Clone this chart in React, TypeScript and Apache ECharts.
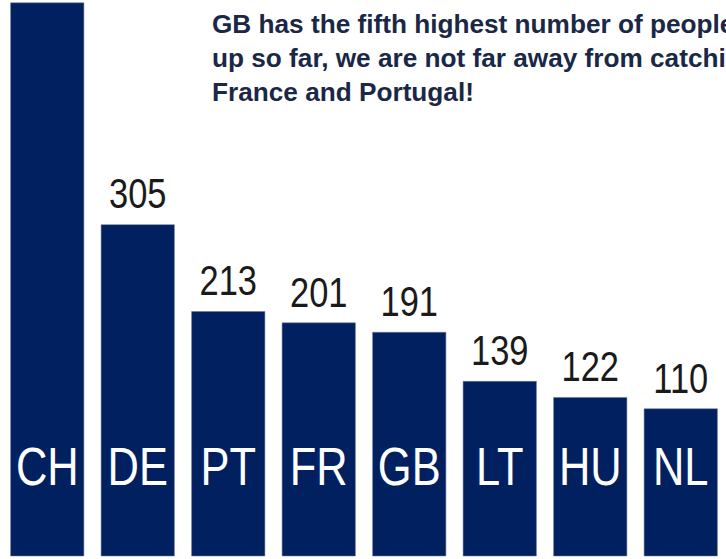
import React, { useEffect, useRef } from "react";
import * as echarts from "echarts";

const categories = ["CH", "DE", "PT", "FR", "GB", "LT", "HU", "NL"];
const values = [540, 305, 213, 201, 191, 139, 122, 110];
const titleLines = [
  "GB has the fifth highest number of people",
  "up so far, we are not far away from catching",
  "France and Portugal!",
];

const Y_MIN = -46;
const Y_MAX = 543;
const BAR_COLOR = "#002060";

export default function App() {
  const ref = useRef<HTMLDivElement>(null);

  useEffect(() => {
    document.body.style.margin = "0";
    const chart = echarts.init(ref.current!, null, { renderer: "svg" });
    chart.setOption({
      animation: false,
      backgroundColor: "#ffffff",
      title: {
        text: titleLines.join("\n"),
        left: 212,
        top: 7,
        padding: 0,
        textStyle: {
          fontFamily: "Liberation Sans, Arial, sans-serif",
          fontWeight: "bold",
          fontSize: 26.2,
          lineHeight: 34,
          color: "#1a2846",
        },
      },
      grid: { left: 2, right: -3, top: 0, bottom: 3 },
      xAxis: { type: "category", data: categories, show: false },
      yAxis: { type: "value", min: Y_MIN, max: Y_MAX, show: false },
      series: [
        {
          type: "custom",
          clip: false,
          encode: { x: 0, y: 1 },
          data: values.map((v, i) => [i, v]),
          renderItem: (params: any, api: any) => {
            const idx = api.value(0);
            const v = api.value(1);
            const top = api.coord([idx, v]);
            const bottom = api.coord([idx, Y_MIN]);
            const band = api.size([1, 0])[0];
            const w = band * 0.81;
            const children: any[] = [
              {
                type: "rect",
                shape: { x: top[0] - w / 2, y: top[1], width: w, height: bottom[1] - top[1] },
                style: { fill: BAR_COLOR, stroke: "rgba(110,122,150,0.55)", lineWidth: 1 },
              },
              {
                type: "text",
                x: top[0],
                y: bottom[1] - 90,
                scaleX: 0.82,
                style: {
                  text: categories[idx],
                  fill: "#ffffff",
                  fontFamily: "Liberation Sans, Arial, sans-serif",
                  fontSize: 53,
                  align: "center",
                  verticalAlign: "middle",
                  textAlign: "center",
                  textVerticalAlign: "middle",
                },
              },
            ];
            const labelY = top[1] - 31;
            if (labelY > 20) {
              children.push({
                type: "text",
                x: top[0],
                y: labelY,
                scaleX: 0.82,
                style: {
                  text: String(v),
                  fill: "#1a1a1a",
                  fontFamily: "Liberation Sans, Arial, sans-serif",
                  fontSize: 42,
                  align: "center",
                  verticalAlign: "middle",
                  textAlign: "center",
                  textVerticalAlign: "middle",
                },
              });
            }
            return { type: "group", children };
          },
        },
      ],
    });
    return () => chart.dispose();
  }, []);

  return <div ref={ref} style={{ width: 726, height: 559 }} />;
}
